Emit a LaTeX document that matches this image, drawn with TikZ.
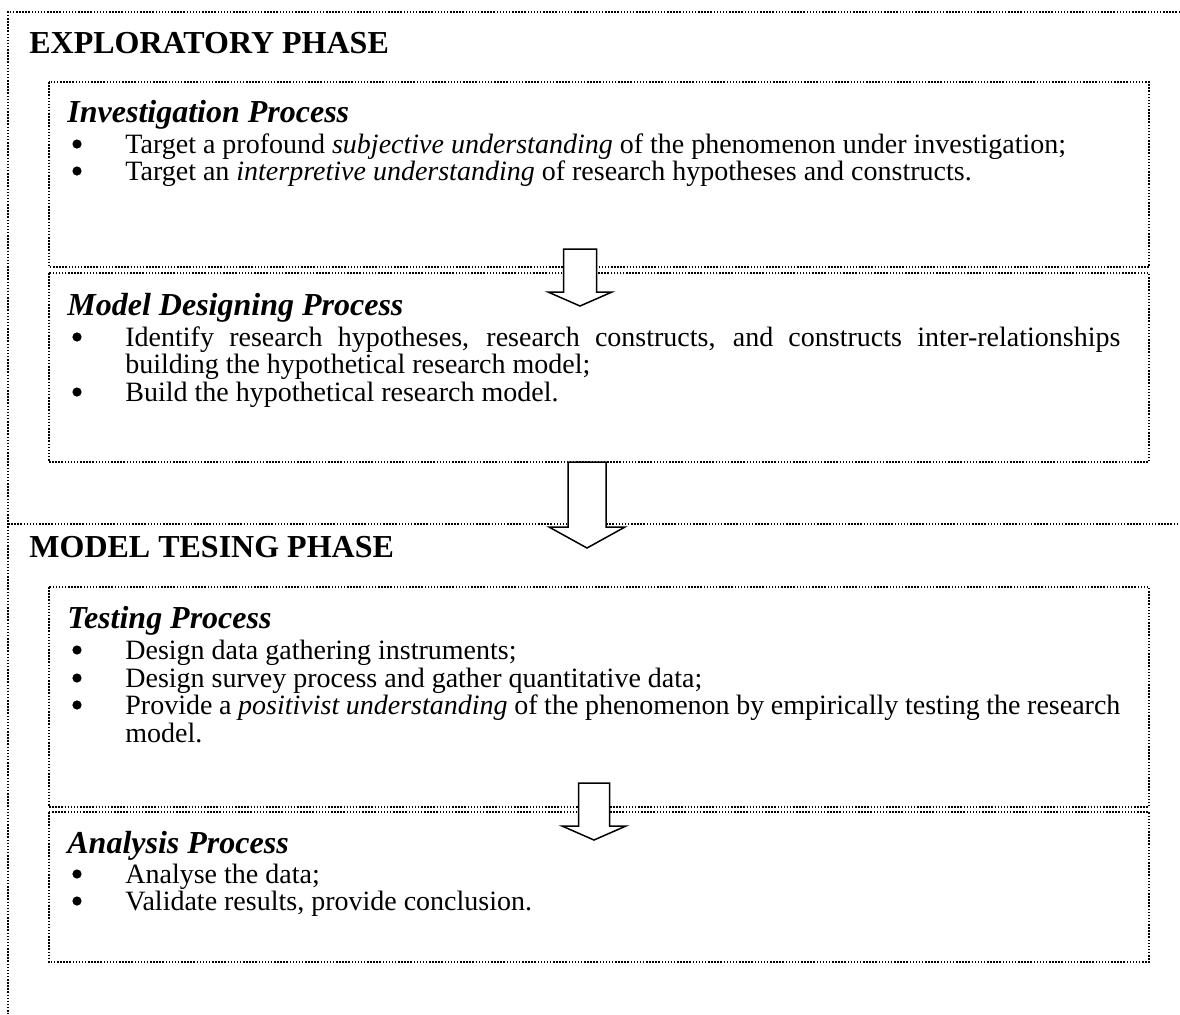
\documentclass[tikz,border=0pt]{standalone}
\usepackage{fontspec}
\setmainfont{Liberation Serif}
\newcommand\blockarrow[6]{%
  \draw[barrow] ({#1-#5},#2) -- ({#1+#5},#2) -- ({#1+#5},#3) -- ({#1+#6},#3)
    -- (#1,#4) -- ({#1-#6},#3) -- ({#1-#5},#3) -- cycle;}
\begin{document}
\begin{tikzpicture}[x=0.5pt,y=-0.5pt,
  dotline/.style={line width=0.75pt, dash pattern=on 0.75pt off 0.8pt},
  barrow/.style={draw, fill=white, line width=0.75pt, line join=miter},
  phase/.style={anchor=base west, inner sep=0pt, font=\fontsize{16}{16}\selectfont\bfseries},
  proc/.style={anchor=base west, inner sep=0pt, font=\fontsize{16}{16}\selectfont\bfseries\itshape},
  body/.style={anchor=base west, inner sep=0pt, font=\fontsize{14}{14}\selectfont},
  bul/.style={circle, fill=black, inner sep=0pt, minimum size=4.6pt}]
\useasboundingbox[fill=white] (0,0) rectangle (1180,1014);
% outer phase frames
\draw[dotline] (1180,12) -- (8,12) -- (8,1014);
\draw[dotline] (8,524) -- (1180,524);
% inner process boxes
\draw[dotline] (49,82) rectangle (1149,267);
\draw[dotline] (49,273) rectangle (1149,462);
\draw[dotline] (49,587) rectangle (1149,807);
\draw[dotline] (49,812) rectangle (1149,962);
% block arrows
\blockarrow{580}{249}{292}{306}{16.5}{32}
\blockarrow{587}{462}{527}{548}{19}{38}
\blockarrow{594}{783}{826}{840}{15.5}{32}
% headings
\node[phase] (ph1) at (29,53) {EXPLORATORY PHASE};
\node[phase] (ph2) at (29,557) {MODEL TESING PHASE};
% Investigation
\node[proc] (p1) at (67,122) {Investigation Process};
\node[bul] (p1b1) at (77,144) {};
\node[body] (p1t1) at (125,153) {Target a profound \textit{subjective understanding} of the phenomenon under investigation;};
\node[bul] (p1b2) at (77,171) {};
\node[body] (p1t2) at (125,180) {Target an \textit{interpretive understanding} of research hypotheses and constructs.};
% Model designing
\node[proc] (p2) at (67,315) {Model Designing Process};
\node[bul] (p2b1) at (77,337) {};
\node[body] (p2t1) at (125,346) {\makebox[497.5pt][s]{Identify research hypotheses, research constructs, and constructs inter-relationships}};
\node[body] (p2t1b) at (125,373) {building the hypothetical research model;};
\node[bul] (p2b2) at (77,392) {};
\node[body] (p2t2) at (125,401) {Build the hypothetical research model.};
% Testing
\node[proc] (p3) at (67,628) {Testing Process};
\node[bul] (p3b1) at (77,650) {};
\node[body] (p3t1) at (125,659) {Design data gathering instruments;};
\node[bul] (p3b2) at (77,678) {};
\node[body] (p3t2) at (125,687) {Design survey process and gather quantitative data;};
\node[bul] (p3b3) at (77,705) {};
\node[body] (p3t3) at (125,714) {\makebox[497.5pt][s]{Provide a \textit{positivist understanding} of the phenomenon by empirically testing the research}};
\node[body] (p3t3b) at (125,742) {model.};
% Analysis
\node[proc] (p4) at (67,853) {Analysis Process};
\node[bul] (p4b1) at (77,874) {};
\node[body] (p4t1) at (125,883) {Analyse the data;};
\node[bul] (p4b2) at (77,901) {};
\node[body] (p4t2) at (125,910) {Validate results, provide conclusion.};
\end{tikzpicture}
\end{document}
